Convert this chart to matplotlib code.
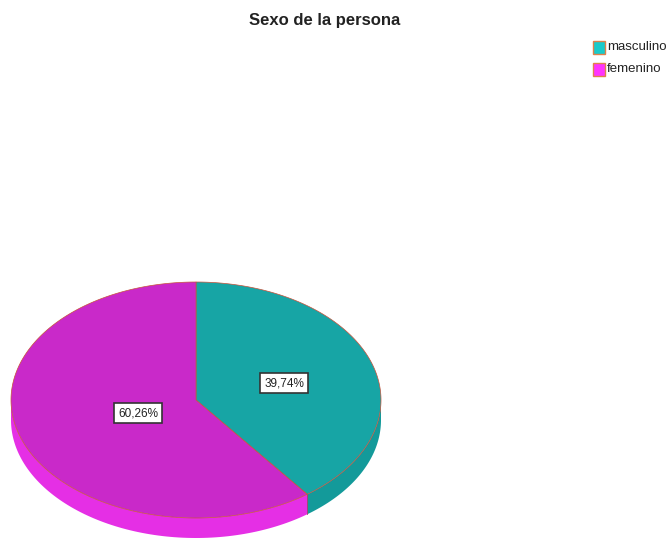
import numpy as np
import matplotlib
matplotlib.use("Agg")
import matplotlib.pyplot as plt
from matplotlib.patches import Polygon, Rectangle

title = "Sexo de la persona"
categories = ["masculino", "femenino"]
percentages = [39.74, 60.26]
label_texts = ["39,74%", "60,26%"]

top_colors = ["#17A5A5", "#C929C9"]
side_colors = ["#139A9A", "#E52FE5"]
legend_colors = ["#1ACACA", "#FF33FF"]
edge_color = "#C8523A"

W, H = 671, 539
fig = plt.figure(figsize=(W / 100, H / 100), dpi=100)
ax = fig.add_axes([0, 0, 1, 1])
ax.set_xlim(0, W)
ax.set_ylim(H, 0)
ax.axis("off")

cx, cy, rx, ry, depth = 196, 400, 185, 118, 20


def pt(a, dy=0.0):
    return cx + rx * np.cos(a), cy - ry * np.sin(a) + dy


total = sum(percentages)
start = np.pi / 2
spans = []
for p in percentages:
    end = start - 2 * np.pi * p / total
    spans.append((end, start))
    start = end

# side walls (visible front half)
for (a1, a2), sc in zip(spans, side_colors):
    for lo, hi in [(-np.pi, 0.0), (np.pi, 2 * np.pi)]:
        s = max(a1, lo)
        e = min(a2, hi)
        if e > s:
            t = np.linspace(s, e, 100)
            xs, ys = pt(t)
            xb, yb = pt(t[::-1], depth)
            poly = np.column_stack([np.concatenate([xs, xb]), np.concatenate([ys, yb])])
            ax.add_patch(Polygon(poly, closed=True, facecolor=sc, edgecolor="none", zorder=1))
for (a1, a2) in spans:
    if np.sin(a1) < 0:
        x0, y0 = pt(a1)
        ax.plot([x0, x0], [y0, y0 + depth], color="#B03A6A", lw=0.6, zorder=2)

# top faces
for (a1, a2), tc in zip(spans, top_colors):
    t = np.linspace(a1, a2, 200)
    xs, ys = pt(t)
    poly = np.column_stack([np.concatenate([[cx], xs]), np.concatenate([[cy], ys])])
    ax.add_patch(Polygon(poly, closed=True, facecolor=tc, edgecolor=edge_color, lw=0.5, zorder=3))

# labels
label_pos = [(284, 383), (138, 413)]
for (x, y), txt in zip(label_pos, label_texts):
    ax.text(x, y, txt, ha="center", va="center", fontsize=8.5, family="Liberation Sans",
            color="#222222", zorder=5,
            bbox=dict(boxstyle="square,pad=0.38", facecolor="white", edgecolor="#333333", lw=1.2))

# title
ax.text(325, 20, title, ha="center", va="center", fontsize=12, fontweight="bold",
        family="Liberation Sans", color="#222222")

# legend
for i, (cat, lc) in enumerate(zip(categories, legend_colors)):
    y = 47 + i * 22
    ax.add_patch(Rectangle((593, y - 6.5), 12, 13, facecolor=lc, edgecolor="#E0804A", lw=1.0, zorder=5))
    ax.text(607, y, cat, ha="left", va="center", fontsize=9.5,
            family="Liberation Sans", color="#222222")

fig.savefig("out.png", dpi=100)
